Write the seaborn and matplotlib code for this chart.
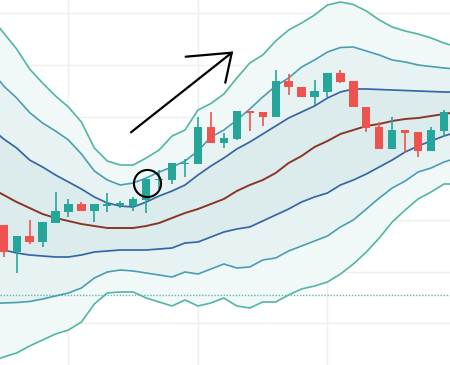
import numpy as np
import pandas as pd
import matplotlib
matplotlib.use("Agg")
import matplotlib.pyplot as plt
import seaborn as sns

# ---- data (price units) ----
candle_idx = list(range(35))
opens  = [140.0, 113.0, 129.0, 123.0, 142.0, 153.5, 161.0, 154.0, 159.5, 160.5, 159.0, 165.5, 185.0, 185.0, 201.0,
          201.0, 237.7, 221.7, 226.0, 254.3, 253.5, 247.7, 284.3, 278.5, 268.3, 273.5, 292.5, 284.3, 258.3, 238.3,
          216.5, 234.7, 233.0, 214.0, 234.3]
highs  = [140.0, 129.0, 145.0, 143.0, 173.0, 166.0, 163.5, 161.0, 172.0, 164.0, 168.3, 186.0, 195.5, 201.7, 206.5,
          248.3, 253.3, 232.3, 254.3, 254.3, 253.5, 295.0, 290.7, 278.5, 285.5, 292.5, 295.0, 284.3, 258.3, 243.3,
          248.3, 234.7, 233.0, 238.3, 255.0]
lows   = [108.0, 92.0, 121.0, 118.0, 142.0, 148.0, 154.0, 143.0, 153.5, 157.0, 154.3, 152.3, 176.0, 180.7, 188.0,
          201.0, 221.7, 216.7, 225.5, 234.3, 239.3, 247.7, 270.5, 268.3, 260.0, 267.7, 281.7, 258.0, 233.0, 216.5,
          216.5, 211.7, 208.3, 214.0, 228.3]
closes = [113.0, 129.0, 123.0, 143.0, 154.0, 161.0, 154.0, 161.0, 161.0, 162.0, 165.7, 185.7, 186.0, 201.7, 202.0,
          237.7, 221.7, 227.5, 254.3, 252.3, 247.7, 284.3, 278.3, 268.3, 274.0, 292.5, 283.5, 258.0, 237.5, 216.5,
          235.0, 232.3, 214.0, 235.0, 253.3]

band_idx = list(range(-1, 36))
outer_upper = [348, 332, 316, 296, 282, 269, 258, 243, 217, 204, 200, 200, 207, 215, 229, 235, 255, 261.5, 271, 287,
               302, 310, 324, 335, 342, 350, 360, 363, 360.5, 354, 345, 338, 334, 331, 327, 322, 318]
mid_upper   = [295, 279, 267, 252.5, 242, 234, 225, 211, 194, 185, 180, 182, 187, 193, 198, 204, 214, 228, 235, 245,
               256, 268, 279, 287, 298, 305, 313, 317.5, 318, 314, 310, 305, 303, 300, 298.5, 297, 296]
inner_upper = [237, 226, 217, 205, 198, 190, 183, 176, 168, 162, 159, 158, 163, 169, 174, 180, 190, 199, 207, 216,
               223, 231, 239, 247, 253, 259, 267, 273, 276, 276, 275.5, 275, 274.5, 274, 273.5, 273, 273]
middle      = [177, 170, 163, 157, 151, 147, 144, 141, 139, 137, 137, 137, 139, 142, 147, 152, 156, 161, 166, 174,
               180, 185, 192, 202, 209, 218, 224, 231, 235, 239, 241, 244, 246, 247, 249, 251, 253]
inner_lower = [116, 115, 112, 110, 109, 108, 108, 110, 113, 114, 115, 115, 115, 116, 117, 122, 123, 128, 133, 136,
               138, 144, 150, 156, 163, 168, 172, 180, 185, 191, 198, 205, 213, 219, 224, 229, 233]
mid_lower   = [62, 62, 62.5, 63.5, 66, 69, 72, 77, 87, 93, 95, 94, 92, 90, 88, 93, 91, 96, 101, 97,
               98, 105, 107, 114, 119, 124, 129, 138, 145, 156, 167, 177, 184, 193, 197, 203, 207]
outer_lower = [3, 8, 12, 19, 25, 31, 35, 43, 61, 72, 73, 73, 67, 63, 59, 65, 59, 62, 67, 59,
               57, 63, 63, 70, 76, 79, 83, 91, 101, 113, 127, 143, 155, 166, 173, 181, 181]

grid_levels = [41.7, 93.3, 145.0, 196.7, 248.3, 300.0, 351.7]
grid_cols = [5, 15, 25]
support_level = 70.0

# ---- styling ----
GREEN = "#26a69a"
RED = "#ef5350"
C_OUTER = "#52b5a6"
C_MID = "#4b9db4"
C_INNER = "#3666a6"
C_BROWN = "#8a3628"

sns.set_theme(style="white")
plt.rcParams['font.family'] = ['DejaVu Sans']

fig = plt.figure(figsize=(4.5, 3.65), dpi=100)
ax = fig.add_axes([0, 0, 1, 1])
ax.set_xlim(-0.286, 34.46)
ax.set_ylim(0, 365)

for g in grid_levels:
    ax.axhline(g, color="#efefef", lw=1.0, zorder=0)
for g in grid_cols:
    ax.axvline(g, color="#efefef", lw=1.0, zorder=0)

bands = pd.DataFrame({
    "x": band_idx,
    "outer_upper": outer_upper, "mid_upper": mid_upper, "inner_upper": inner_upper,
    "middle": middle,
    "inner_lower": inner_lower, "mid_lower": mid_lower, "outer_lower": outer_lower,
})

ax.fill_between(bands.x, bands.outer_lower, bands.outer_upper, color="#f1f8f8", lw=0, zorder=1)
ax.fill_between(bands.x, bands.mid_lower, bands.mid_upper, color="#e7f3f3", lw=0, zorder=1.1)
ax.fill_between(bands.x, bands.inner_lower, bands.inner_upper, color="#dcecec", lw=0, zorder=1.2)

ax.axhline(support_level, color="#5fb7ad", lw=1.0, ls=(0, (1, 1.2)), zorder=2)

for col, c, w in [("outer_upper", C_OUTER, 1.2), ("outer_lower", C_OUTER, 1.2),
                  ("mid_upper", C_MID, 1.2), ("mid_lower", C_MID, 1.2),
                  ("inner_upper", C_INNER, 1.25), ("inner_lower", C_INNER, 1.25),
                  ("middle", C_BROWN, 1.4)]:
    sns.lineplot(data=bands, x="x", y=col, ax=ax, color=c, lw=w, sort=False,
                 estimator=None, zorder=3)

# candles
df = pd.DataFrame({"i": candle_idx, "o": opens, "h": highs, "l": lows, "c": closes})
colors = [GREEN if c >= o else RED for o, c in zip(df.o, df.c)]
ax.vlines(df.i, df.l, df.h, colors=colors, lw=1.2, zorder=4)
bottoms = np.minimum(df.o, df.c)
heights = np.maximum(np.abs(df.c - df.o), 1.4)
ax.bar(df.i, heights, bottom=bottoms, width=0.64, color=colors, lw=0, zorder=5)

# annotations: hand-drawn arrow and circle
ax.plot([9.83, 17.61], [232.7, 312.3], color="black", lw=1.6, solid_capstyle="round", zorder=6)
ax.plot([14.05, 17.61, 17.11], [308.3, 312.3, 282.3], color="black", lw=1.6,
        solid_capstyle="round", solid_joinstyle="miter", zorder=6)
ax.plot([11.07], [182.3], marker="o", markersize=19.5, markerfacecolor="none",
        markeredgecolor="black", markeredgewidth=1.5, zorder=6)

for s in ax.spines.values():
    s.set_visible(False)
ax.set_xticks([])
ax.set_yticks([])
ax.set_xlabel("")
ax.set_ylabel("")
if ax.get_legend():
    ax.get_legend().remove()

fig.savefig("out.png", dpi=100)
